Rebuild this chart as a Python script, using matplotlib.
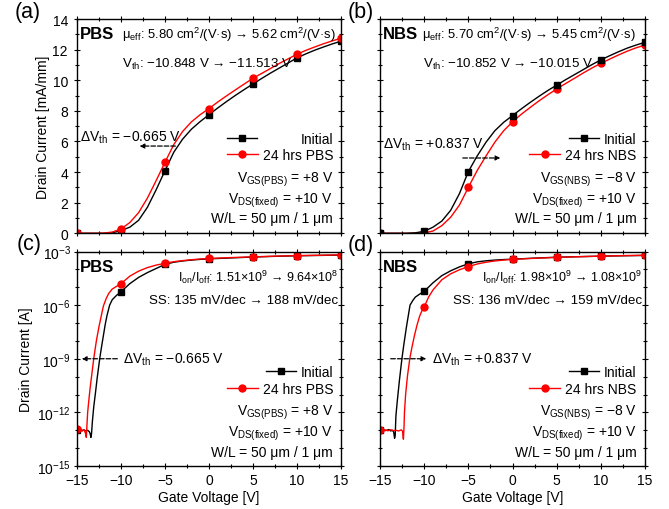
import numpy as np
import matplotlib
matplotlib.use('Agg')
from matplotlib import pyplot as plt
from matplotlib.lines import Line2D
from matplotlib.ticker import FixedLocator, NullFormatter, LogFormatterSciNotation

plt.rcParams['font.family'] = ['Liberation Sans', 'DejaVu Sans']
plt.rcParams['mathtext.fontset'] = 'custom'
plt.rcParams['mathtext.rm'] = 'Liberation Sans'
plt.rcParams['mathtext.it'] = 'Liberation Sans:italic'
plt.rcParams['mathtext.bf'] = 'Liberation Sans:bold'
plt.rcParams['mathtext.default'] = 'regular'

# gate voltages that carry a marker
vg_marks = [-15, -10, -5, 0, 5, 10, 15]

# linear transfer curves [mA/mm]
vg_lin = list(range(-15, 16))
pbs_init_lin = [0, 0, 0, 0.0, 0.03, 0.18, 0.4, 0.85, 1.7, 2.85, 4.09, 5.3, 6.15, 6.8, 7.3, 7.75,
                8.19, 8.61, 9.01, 9.39, 9.76, 10.12, 10.47, 10.8, 11.13, 11.46, 11.72, 11.96, 12.17, 12.37, 12.55]
pbs_24h_lin = [0, 0, 0.0, 0.01, 0.08, 0.28, 0.7, 1.35, 2.3, 3.45, 4.64, 5.8, 6.65, 7.28, 7.75, 8.15,
               8.58, 8.98, 9.37, 9.75, 10.13, 10.45, 10.77, 11.1, 11.4, 11.7, 11.95, 12.17, 12.38, 12.57, 12.74]
nbs_init_lin = [0, 0, 0, 0.0, 0.03, 0.13, 0.4, 0.8, 1.5, 2.6, 4.03, 5.05, 5.95, 6.7, 7.25, 7.69,
                8.13, 8.55, 8.95, 9.33, 9.68, 10.03, 10.36, 10.69, 11.02, 11.33, 11.6, 11.86, 12.1, 12.3, 12.48]
nbs_24h_lin = [0, 0, 0, 0, 0.0, 0.02, 0.15, 0.5, 1.05, 1.85, 3.0, 4.1, 5.05, 5.95, 6.7, 7.28,
               7.78, 8.22, 8.65, 9.05, 9.43, 9.78, 10.12, 10.47, 10.8, 11.1, 11.38, 11.65, 11.9, 12.12, 12.3]

# log transfer curves, log10 of drain current [A]
vg_pbs_init = [-15, -14.8, -14.6, -14.4, -14.2, -14.0, -13.8, -13.6, -13.5, -13.42, -13.35, -13.25, -13.1,
               -12.9, -12.7, -12.42, -12.2, -12.0, -11.8, -11.6, -11.29, -11.0, -10.5, -10, -9, -8, -7, -6,
               -5, -4, -3, -2, -1, 0, 2.5, 5, 7.5, 10, 12.5, 15]
pbs_init_log = [-13.0, -13.05, -12.97, -13.03, -12.98, -13.04, -13.0, -13.08, -13.2, -13.4, -13.2, -12.5, -11.7,
                -10.9, -10.05, -9.0, -8.3, -7.7, -7.1, -6.6, -6.0, -5.7, -5.45, -5.25, -4.8, -4.45, -4.18, -3.95,
                -3.72, -3.6, -3.53, -3.48, -3.44, -3.41, -3.36, -3.31, -3.27, -3.24, -3.22, -3.2]
vg_pbs_24h = [-15, -14.8, -14.6, -14.45, -14.3, -14.15, -14.05, -13.94, -13.88, -13.79, -13.65, -13.5, -13.3,
              -13.1, -12.8, -12.5, -12.2, -12.0, -11.7, -11.4, -11, -10.5, -10, -9, -8, -7, -6, -5, -4, -3,
              -2, -1, 0, 2.5, 5, 7.5, 10, 12.5, 15]
pbs_24h_log = [-12.95, -13.02, -12.92, -13.05, -12.97, -13.03, -13.15, -13.4, -12.8, -12.0, -11.3, -10.6, -9.8,
               -9.0, -8.0, -7.2, -6.5, -6.05, -5.65, -5.35, -5.1, -4.95, -4.8, -4.38, -4.1, -3.9, -3.76, -3.66,
               -3.57, -3.51, -3.46, -3.42, -3.39, -3.34, -3.3, -3.26, -3.23, -3.21, -3.19]
vg_nbs_init = [-15, -14.8, -14.6, -14.4, -14.2, -14.0, -13.8, -13.6, -13.45, -13.35, -13.28, -13.2, -13.05,
               -12.8, -12.52, -12.3, -12.0, -11.8, -11.6, -11.3, -11.0, -10.5, -10, -9, -8, -7, -6, -5, -4,
               -3, -2, -1, 0, 2.5, 5, 7.5, 10, 12.5, 15]
nbs_init_log = [-13.0, -13.03, -12.97, -13.02, -13.0, -12.96, -13.04, -13.0, -13.1, -13.45, -13.3, -12.2, -11.4,
                -10.2, -9.0, -8.2, -7.2, -6.6, -6.0, -5.75, -5.55, -5.38, -5.23, -4.75, -4.35, -4.08, -3.86,
                -3.69, -3.58, -3.52, -3.48, -3.45, -3.43, -3.37, -3.32, -3.29, -3.26, -3.24, -3.22]
vg_nbs_24h = [-15, -14.7, -14.4, -14.1, -13.8, -13.5, -13.2, -12.9, -12.6, -12.45, -12.35, -12.28, -12.23,
              -12.1, -11.9, -11.63, -11.4, -11.1, -10.8, -10.5, -10.2, -10, -9.5, -9, -8, -7, -6, -5, -4, -3,
              -2, -1, 0, 2.5, 5, 7.5, 10, 12.5, 15]
nbs_24h_log = [-13.0, -13.04, -12.98, -13.03, -12.97, -13.02, -13.0, -13.04, -12.98, -13.05, -13.5, -12.8, -12.0,
               -11.0, -10.0, -9.0, -8.4, -7.7, -7.1, -6.6, -6.25, -6.1, -5.55, -5.15, -4.58, -4.25, -4.02, -3.85,
               -3.7, -3.6, -3.53, -3.48, -3.44, -3.38, -3.33, -3.29, -3.26, -3.23, -3.21]


def draw_curve(ax, x, y, color, marker, ms):
    x = np.asarray(x, dtype=float)
    y = np.asarray(y, dtype=float)
    ax.plot(x, y, color=color, lw=1.0)
    m = np.isin(x, vg_marks)
    ax.plot(x[m], y[m], ls='none', marker=marker, ms=ms, color=color)


def style(ax, logy):
    ax.set_xlim(-15, 15)
    ax.set_xticks(vg_marks)
    ax.xaxis.set_minor_locator(FixedLocator(np.arange(-15, 15.1, 2.5)))
    if logy:
        ax.set_yscale('log')
        ax.set_ylim(1e-15, 1e-3)
        ax.yaxis.set_major_locator(FixedLocator([1e-15, 1e-12, 1e-9, 1e-6, 1e-3]))
        ax.yaxis.set_major_formatter(LogFormatterSciNotation())
        ax.yaxis.set_minor_locator(FixedLocator(10.0 ** np.arange(-15, -2)))
        ax.yaxis.set_minor_formatter(NullFormatter())
    else:
        ax.set_ylim(0, 14)
        ax.set_yticks(range(0, 15, 2))
        ax.yaxis.set_minor_locator(FixedLocator(range(1, 14, 2)))
    ax.tick_params(which='both', direction='inout', top=True, right=True, labelsize=10)
    ax.tick_params(which='major', length=5, width=0.8)
    ax.tick_params(which='minor', length=3, width=0.8)
    ax.tick_params(axis='x', pad=2.5)
    ax.tick_params(axis='y', pad=2 if logy else 4)
    for s in ax.spines.values():
        s.set_linewidth(1.0)


def keys(ax, labels, y0, y1, pad0, xr):
    h0 = Line2D([], [], color='k', lw=1.0, marker='s', ms=4)
    h1 = Line2D([], [], color='r', lw=1.0, marker='o', ms=5)
    opts = dict(loc='center right', frameon=False, fontsize=10, borderpad=0, borderaxespad=0,
                handlelength=2.2, bbox_transform=ax.transAxes)
    leg0 = ax.legend([h0], [labels[0]], bbox_to_anchor=(xr, y0), handletextpad=pad0, **opts)
    ax.add_artist(leg0)
    ax.legend([h1], [labels[1]], bbox_to_anchor=(xr, y1), handletextpad=0.35, **opts)


def conditions(ax, vgs, y0):
    ax.text(0.97, y0, vgs, transform=ax.transAxes, ha='right', va='baseline', fontsize=10)
    ax.text(0.97, y0 - 0.096, 'V$_{\\mathrm{DS(fixed)}}$ = +10 V', transform=ax.transAxes,
            ha='right', va='baseline', fontsize=10)
    ax.text(0.97, y0 - 0.19, 'W/L = 50 μm / 1 μm', transform=ax.transAxes,
            ha='right', va='baseline', fontsize=10)


fig = plt.figure(figsize=(6.69, 5.10), dpi=100)
ax_a = fig.add_axes([77 / 669, 1 - 234.3 / 510, 264 / 669, 214.3 / 510])
ax_b = fig.add_axes([380 / 669, 1 - 234.3 / 510, 265 / 669, 214.3 / 510])
ax_c = fig.add_axes([77 / 669, 1 - 467 / 510, 264 / 669, 214.5 / 510])
ax_d = fig.add_axes([380 / 669, 1 - 467 / 510, 265 / 669, 214.5 / 510])

# (a) PBS linear
draw_curve(ax_a, vg_lin, pbs_init_lin, 'k', 's', 4)
draw_curve(ax_a, vg_lin, pbs_24h_lin, 'r', 'o', 5)
# (b) NBS linear
draw_curve(ax_b, vg_lin, nbs_24h_lin, 'r', 'o', 5)
draw_curve(ax_b, vg_lin, nbs_init_lin, 'k', 's', 4)
# (c) PBS log
draw_curve(ax_c, vg_pbs_init, 10.0 ** np.array(pbs_init_log), 'k', 's', 4)
draw_curve(ax_c, vg_pbs_24h, 10.0 ** np.array(pbs_24h_log), 'r', 'o', 5)
# (d) NBS log
draw_curve(ax_d, vg_nbs_init, 10.0 ** np.array(nbs_init_log), 'k', 's', 4)
draw_curve(ax_d, vg_nbs_24h, 10.0 ** np.array(nbs_24h_log), 'r', 'o', 5)

for ax in (ax_a, ax_b):
    style(ax, False)
    ax.tick_params(labelbottom=False)
for ax in (ax_c, ax_d):
    style(ax, True)
    ax.set_xlabel('Gate Voltage [V]', fontsize=10)
    ax.xaxis.set_label_coords(0.5, -0.112)
ax_b.tick_params(labelleft=False)
ax_d.tick_params(labelleft=False)

ax_a.set_ylabel('Drain Current [mA/mm]', fontsize=10)
ax_a.yaxis.set_label_coords(-0.102, 0.5)
ax_c.set_ylabel('Drain Current [A]', fontsize=10)
ax_c.yaxis.set_label_coords(-0.167, 0.5)

# panel (a) annotations
ax_a.text(0.011, 0.911, 'PBS', transform=ax_a.transAxes, fontsize=12, fontweight='bold', va='baseline')
ax_a.text(0.170, 0.911, 'μ$_{\\mathrm{eff}}$: 5.80 cm$^2$/(V·s) → 5.62 cm$^2$/(V·s)',
          transform=ax_a.transAxes, fontsize=9.4, va='baseline')
ax_a.text(0.170, 0.775, 'V$_{\\mathrm{th}}$: −10.848 V → −11.513 V', transform=ax_a.transAxes,
          fontsize=9.6, va='baseline')
ax_a.text(0.011, 0.432, 'ΔV$_{\\mathrm{th}}$ = −0.665 V', transform=ax_a.transAxes, fontsize=10, va='baseline')
ax_a.annotate('', xy=(-8.2, 5.7), xytext=(-3.5, 5.7),
              arrowprops=dict(arrowstyle='-|>', ls='--', lw=0.9, color='k', mutation_scale=7))
keys(ax_a, ['Initial', '24 hrs PBS'], 0.44, 0.365, 3.1, 0.97)
conditions(ax_a, 'V$_{\\mathrm{GS(PBS)}}$ = +8 V', 0.241)

# panel (b) annotations
ax_b.text(0.011, 0.911, 'NBS', transform=ax_b.transAxes, fontsize=12, fontweight='bold', va='baseline')
ax_b.text(0.158, 0.911, 'μ$_{\\mathrm{eff}}$: 5.70 cm$^2$/(V·s) → 5.45 cm$^2$/(V·s)',
          transform=ax_b.transAxes, fontsize=9.4, va='baseline')
ax_b.text(0.162, 0.775, 'V$_{\\mathrm{th}}$: −10.852 V → −10.015 V', transform=ax_b.transAxes,
          fontsize=9.6, va='baseline')
ax_b.text(0.011, 0.398, 'ΔV$_{\\mathrm{th}}$ = +0.837 V', transform=ax_b.transAxes, fontsize=10, va='baseline')
ax_b.annotate('', xy=(-1.07, 4.92), xytext=(-5.94, 4.92),
              arrowprops=dict(arrowstyle='-|>', ls='--', lw=0.9, color='k', mutation_scale=7))
keys(ax_b, ['Initial', '24 hrs NBS'], 0.44, 0.365, 0.3, 0.966)
conditions(ax_b, 'V$_{\\mathrm{GS(NBS)}}$ = −8 V', 0.241)

# panel (c) annotations
ax_c.text(0.011, 0.910, 'PBS', transform=ax_c.transAxes, fontsize=12, fontweight='bold', va='baseline')
ax_c.text(0.989, 0.861, 'I$_{\\mathrm{on}}$/I$_{\\mathrm{off}}$: 1.51×10$^9$ → 9.64×10$^8$',
          transform=ax_c.transAxes, fontsize=9, ha='right', va='baseline')
ax_c.text(0.989, 0.760, 'SS: 135 mV/dec → 188 mV/dec', transform=ax_c.transAxes,
          fontsize=9.6, ha='right', va='baseline')
ax_c.text(0.174, 0.480, 'ΔV$_{\\mathrm{th}}$ = −0.665 V', transform=ax_c.transAxes, fontsize=10, va='baseline')
ax_c.annotate('', xy=(-14.77, 1e-9), xytext=(-10.1, 1e-9),
              arrowprops=dict(arrowstyle='-|>', ls='--', lw=0.9, color='k', mutation_scale=7))
keys(ax_c, ['Initial', '24 hrs PBS'], 0.438, 0.359, 0.3, 0.97)
conditions(ax_c, 'V$_{\\mathrm{GS(PBS)}}$ = +8 V', 0.238)

# panel (d) annotations
ax_d.text(0.011, 0.910, 'NBS', transform=ax_d.transAxes, fontsize=12, fontweight='bold', va='baseline')
ax_d.text(0.989, 0.861, 'I$_{\\mathrm{on}}$/I$_{\\mathrm{off}}$: 1.98×10$^9$ → 1.08×10$^9$',
          transform=ax_d.transAxes, fontsize=9, ha='right', va='baseline')
ax_d.text(0.989, 0.760, 'SS: 136 mV/dec → 159 mV/dec', transform=ax_d.transAxes,
          fontsize=9.6, ha='right', va='baseline')
ax_d.text(0.196, 0.480, 'ΔV$_{\\mathrm{th}}$ = +0.837 V', transform=ax_d.transAxes, fontsize=10, va='baseline')
ax_d.annotate('', xy=(-9.45, 1e-9), xytext=(-14.1, 1e-9),
              arrowprops=dict(arrowstyle='-|>', ls='--', lw=0.9, color='k', mutation_scale=7))
keys(ax_d, ['Initial', '24 hrs NBS'], 0.438, 0.359, 0.3, 0.966)
conditions(ax_d, 'V$_{\\mathrm{GS(NBS)}}$ = −8 V', 0.238)

# panel letters
fig.text(0.0419, 0.976, '(a)', fontsize=15.5, ha='center', va='center')
fig.text(0.5396, 0.976, '(b)', fontsize=15.5, ha='center', va='center')
fig.text(0.0434, 0.520, '(c)', fontsize=15.5, ha='center', va='center')
fig.text(0.5396, 0.518, '(d)', fontsize=15.5, ha='center', va='center')

fig.savefig('out.png', dpi=100)
